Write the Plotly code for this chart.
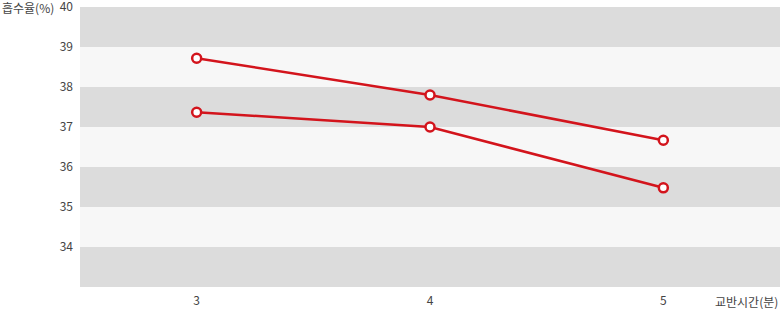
import plotly.graph_objects as go

x_vals = [3, 4, 5]
series_a = [38.72, 37.80, 36.67]
series_b = [37.37, 37.00, 35.48]
y_ticks = [34, 35, 36, 37, 38, 39, 40]
band_edges = [33, 34, 35, 36, 37, 38, 39, 40]

RED = "#d3141c"
FONT = "Noto Sans CJK KR, Noto Sans, sans-serif"

fig = go.Figure()

shapes = []
for i in range(len(band_edges) - 1):
    color = "#dcdcdc" if i % 2 == 0 else "#f7f7f7"
    shapes.append(dict(type="rect", xref="paper", yref="y", x0=0, x1=1,
                       y0=band_edges[i], y1=band_edges[i + 1],
                       fillcolor=color, line=dict(width=0), layer="below"))

for ys in (series_a, series_b):
    fig.add_trace(go.Scatter(
        x=x_vals, y=ys, mode="lines+markers",
        line=dict(color=RED, width=2.5),
        marker=dict(size=9, color="white", line=dict(color=RED, width=2.5)),
        showlegend=False, hoverinfo="x+y"))

fig.update_layout(
    width=780, height=309,
    margin=dict(l=80, r=0, t=7, b=22, autoexpand=False),
    paper_bgcolor="white", plot_bgcolor="white",
    shapes=shapes,
    font=dict(family=FONT, size=12, color="#444444"),
    xaxis=dict(range=[2.5, 5.5], tickvals=x_vals, ticktext=[str(v) for v in x_vals],
               showgrid=False, zeroline=False, showline=False, ticks="",
               ticklabelstandoff=5, automargin=False,
               tickfont=dict(size=12, color="#444444")),
    yaxis=dict(range=[33, 40.0005], tickvals=y_ticks, ticktext=[str(v) for v in y_ticks],
               showgrid=False, zeroline=False, showline=False, ticks="",
               ticklabelstandoff=6, ticklabeloverflow="allow", automargin=False,
               tickfont=dict(size=12, color="#444444")),
    annotations=[
        dict(text="흡수율(%)", xref="paper", yref="paper", x=-80/700, y=1,
             xanchor="left", yanchor="middle", showarrow=False,
             font=dict(size=12, color="#444444", family=FONT)),
        dict(text="교반시간(분)", xref="paper", yref="paper", x=1, y=-14/280,
             xanchor="right", yanchor="middle", showarrow=False,
             font=dict(size=12, color="#444444", family=FONT)),
    ],
)

fig.write_html("out.html")
